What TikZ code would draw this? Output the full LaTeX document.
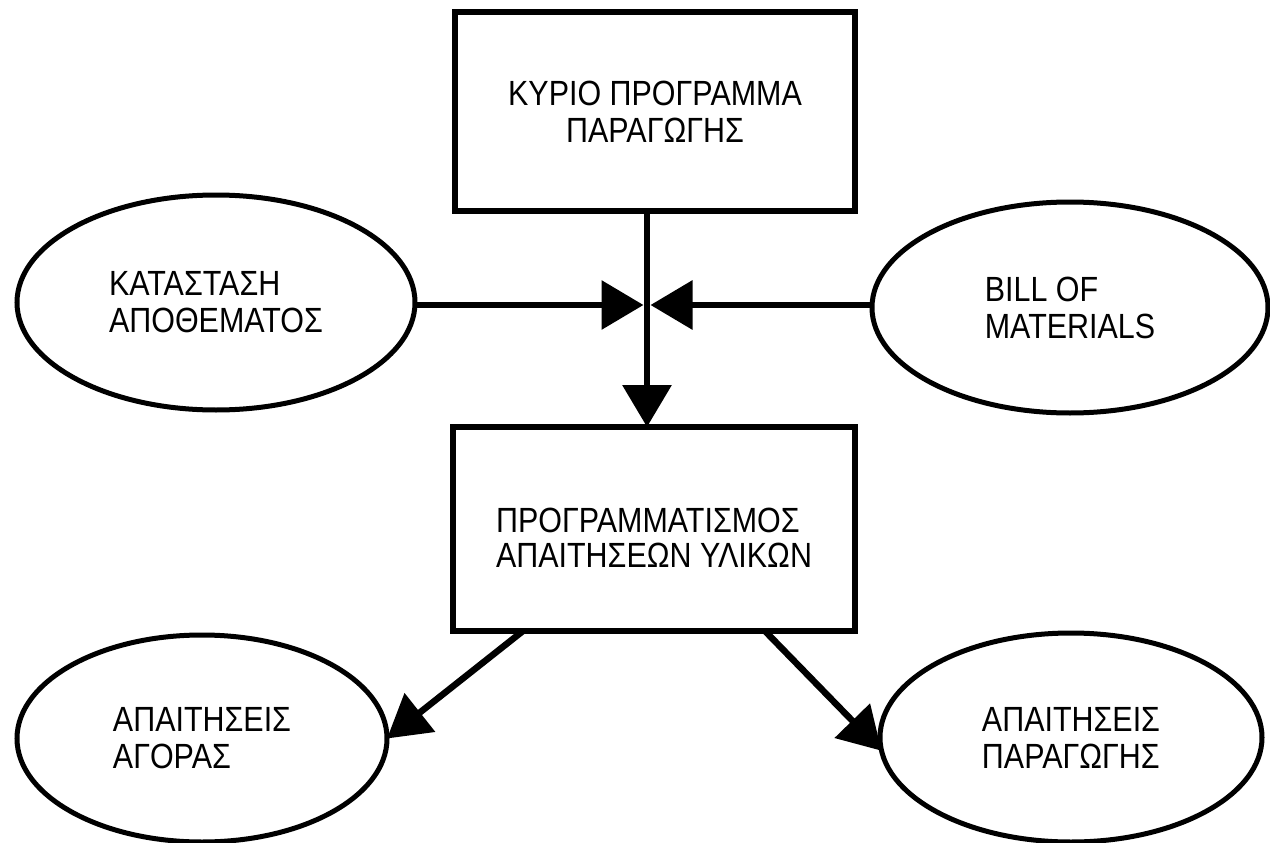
\documentclass[tikz,border=0pt]{standalone}
\usepackage{fontspec}
\setmainfont{Liberation Sans}[FakeStretch=0.87]
\usetikzlibrary{shapes.geometric,arrows.meta,calc}
\begin{document}
\begin{tikzpicture}[x=1pt,y=-1pt,
  box/.style={draw,line width=6.5pt,rectangle,outer sep=0pt,inner sep=0pt,align=center},
  ell/.style={draw,line width=5pt,ellipse,outer sep=0pt,inner sep=0pt,align=left},
  arr/.style={line width=6.5pt,-{Triangle[length=42pt,width=48pt]}},
  txt/.style={font=\fontsize{35}{37}\selectfont}]
\useasboundingbox (0,0) rectangle (1270,843);
\node[box,txt,minimum width=400pt,minimum height=199pt] (mps) at (655,111.5) {ΚΥΡΙΟ ΠΡΟΓΡΑΜΜΑ\\ΠΑΡΑΓΩΓΗΣ};
\node[box,txt,align=left,minimum width=402pt,minimum height=204pt] (mrp) at (654,529) {\raisebox{-14pt}[\height][\depth]{\begin{tabular}{@{}l@{}}ΠΡΟΓΡΑΜΜΑΤΙΣΜΟΣ\\[-2pt]ΑΠΑΙΤΗΣΕΩΝ ΥΛΙΚΩΝ\end{tabular}}};
\node[ell,txt,minimum width=398pt,minimum height=215pt] (ks) at (216,302.5) {ΚΑΤΑΣΤΑΣΗ\\ΑΠΟΘΕΜΑΤΟΣ};
\node[ell,txt,minimum width=396pt,minimum height=211pt] (bom) at (1070,307.5) {BILL OF\\MATERIALS};
\node[ell,txt,minimum width=370pt,minimum height=207pt] (ag) at (202,738.5) {ΑΠΑΙΤΗΣΕΙΣ\\ΑΓΟΡΑΣ};
\node[ell,txt,minimum width=382pt,minimum height=209pt] (pa) at (1071,737.5) {ΑΠΑΙΤΗΣΕΙΣ\\ΠΑΡΑΓΩΓΗΣ};
\coordinate (j) at (647,305);
\draw[arr] (mps.south -| j) -- (mrp.north -| j);
\draw[arr] (ks.east |- j) -- ([xshift=-3.5pt]j);
\draw[arr] (bom.west |- j) -- ([xshift=3.5pt]j);
\draw[arr] ($(mrp.south west)!0.174!(mrp.south east)$) -- (ag.east);
\draw[arr] ($(mrp.south west)!0.776!(mrp.south east)$) -- (pa.184);
\end{tikzpicture}
\end{document}
